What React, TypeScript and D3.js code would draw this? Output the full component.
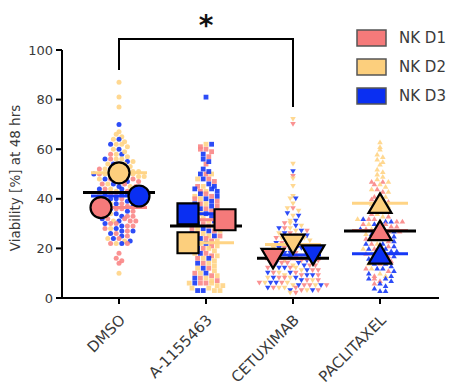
import React from 'react';
import * as d3 from 'd3';

// ---------- data ----------
const groups = ['DMSO', 'A-1155463', 'CETUXIMAB', 'PACLITAXEL'];
const seriesNames = ['NK D1', 'NK D2', 'NK D3'];
const yTicks = [0, 20, 40, 60, 80, 100];
const yLabel = 'Viability [%] at 48 hrs';

const dmsoD1 = [58, 56, 54, 52, 50, 50, 49, 48, 48, 48, 47, 46, 46, 45, 44, 43, 42, 41, 40, 40, 39, 38, 38, 37, 37, 36, 36, 35, 34, 33, 33, 32, 32, 31, 31, 30, 30, 29, 29, 28, 27, 26, 25, 24, 22, 22, 18, 16, 15, 14];
const dmsoD2 = [87, 81, 77, 67, 66, 65, 64, 63, 62, 62, 61, 60, 59, 58, 57, 56, 56, 55, 54, 54, 53, 52, 52, 52, 51, 51, 50, 50, 50, 50, 49, 49, 48, 47, 46, 45, 44, 43, 42, 40, 38, 36, 34, 31, 28, 24, 23, 22, 10];
const dmsoD3 = [70, 64, 62, 60, 58, 56, 55, 54, 52, 51, 50, 48, 47, 46, 45, 44, 44, 43, 43, 42, 42, 42, 41, 41, 40, 40, 39, 39, 38, 38, 37, 36, 35, 34, 33, 32, 31, 30, 29, 28, 27, 27, 26, 25, 24, 23, 22];

const a115D1 = [61, 60, 60, 59, 57, 54, 50, 48, 47, 45, 43, 42, 41, 40, 39, 38, 37, 36, 35, 34, 33, 32, 31, 30, 29, 28, 27, 26, 25, 24, 23, 22, 21, 20, 18, 17, 16, 14, 12, 10, 9, 8, 7, 6, 6];
const a115D2 = [62, 50, 48, 45, 43, 41, 40, 38, 36, 34, 32, 31, 30, 29, 28, 27, 26, 25, 24, 23, 22, 21, 20, 19, 18, 17, 16, 15, 14, 13, 12, 11, 10, 9, 8, 7, 6, 6, 5, 5, 4, 4, 3, 3];
const a115D3 = [81, 62, 58, 56, 55, 52, 51, 50, 48, 46, 45, 44, 44, 43, 42, 41, 40, 39, 38, 37, 36, 35, 34, 33, 32, 31, 30, 29, 28, 27, 26, 25, 24, 22, 20, 18, 16, 14, 12, 10, 8, 6, 3, 3];

const cetuxD1 = [70, 49, 36, 30, 28, 27, 26, 25, 24, 23, 22, 21, 20, 19, 18, 18, 17, 16, 16, 15, 15, 14, 14, 13, 13, 12, 12, 11, 11, 10, 10, 9, 9, 8, 8, 7, 7, 6, 6, 5, 5, 5, 4, 4, 3, 3, 2];
const cetuxD2 = [72, 54, 48, 45, 41, 40, 38, 36, 35, 33, 31, 30, 29, 28, 27, 26, 25, 24, 24, 23, 22, 21, 20, 20, 19, 18, 17, 16, 15, 14, 13, 12, 12, 11, 10, 9, 8, 8, 7, 6, 6, 5, 5, 4, 4, 3, 2];
const cetuxD3 = [51, 40, 34, 33, 31, 29, 28, 27, 26, 25, 24, 23, 22, 21, 21, 20, 20, 19, 18, 18, 17, 16, 16, 15, 15, 14, 14, 13, 12, 12, 11, 10, 10, 9, 9, 8, 8, 7, 6, 6, 5, 5, 4, 3, 3];

const pacliD1 = [47, 47, 46, 44, 43, 41, 40, 39, 38, 37, 36, 35, 34, 33, 32, 32, 31, 31, 30, 30, 29, 29, 28, 28, 27, 27, 26, 25, 24, 23, 22, 21, 20, 19, 18, 17, 16, 15, 14, 12, 11, 9, 8, 7, 6];
const pacliD2 = [63, 61, 60, 58, 57, 56, 55, 54, 52, 51, 50, 49, 48, 47, 46, 45, 44, 43, 42, 41, 40, 39, 38, 37, 36, 35, 34, 33, 32, 31, 30, 28, 26, 24, 22, 20, 18, 16, 14, 12, 10, 9];
const pacliD3 = [32, 31, 31, 30, 29, 28, 28, 27, 26, 25, 25, 24, 24, 23, 22, 22, 21, 20, 20, 19, 19, 18, 17, 17, 16, 15, 14, 14, 13, 12, 12, 11, 10, 9, 8, 8, 7, 6, 5, 4, 3, 3];

const values: number[][][] = [
  [dmsoD1, dmsoD2, dmsoD3],
  [a115D1, a115D2, a115D3],
  [cetuxD1, cetuxD2, cetuxD3],
  [pacliD1, pacliD2, pacliD3],
];

// ---------- style / layout ----------
const dotColors = ['#F98686', '#FFD485', '#1638F6'];
const markerColors = ['#F57A7A', '#FCCF7D', '#0A2FF2'];
const shapes = ['circle', 'square', 'down', 'up'];
const markerNudge = [
  [-18, 0, 20],
  [19, -18, -18],
  [-20, 0, 20],
  [0, 0, 0],
];
const FONT = 'DejaVu Sans, sans-serif';
const TXT = '#3a3a3a';
const ROW = 5;
const GAP = 5.6;

const y = d3.scaleLinear().domain([0, 100]).range([298, 50]);
const x = d3.scaleBand<string>().domain(groups).range([61, 438]).paddingInner(0).paddingOuter(1 / 6);
const cx = (g: string) => (x(g) as number) + x.bandwidth() / 2;

function shapePath(shape: string, w: number): string {
  const h = w / 2;
  if (shape === 'circle') return d3.symbol().type(d3.symbolCircle).size(Math.PI * h * h)() as string;
  if (shape === 'square') return `M${-h},${-h}H${h}V${h}H${-h}Z`;
  const th = w * 0.85;
  if (shape === 'up') return `M0,${-th / 2}L${h},${th / 2}L${-h},${th / 2}Z`;
  return `M0,${th / 2}L${h},${-th / 2}L${-h},${-th / 2}Z`;
}

type Pt = { v: number; s: number; px: number; py: number };

function swarm(gi: number): Pt[] {
  const pts: { v: number; s: number }[] = [];
  values[gi].forEach((arr, s) => arr.forEach((v) => pts.push({ v, s })));
  const bins = d3.group(pts, (p) => Math.round(y(p.v) / ROW));
  const out: Pt[] = [];
  const c = cx(groups[gi]);
  let bi = 0;
  for (const [, bp] of bins) {
    const bySeries = [0, 1, 2].map((s) => bp.filter((p) => p.s === s));
    const ordered: { v: number; s: number }[] = [];
    let k = 0;
    const order = [[0, 1, 2], [2, 0, 1], [1, 2, 0]];
    while (ordered.length < bp.length) {
      for (const s of order[(k + bi) % 3]) if (bySeries[s][k]) ordered.push(bySeries[s][k]);
      k++;
    }
    bi++;
    ordered.forEach((p, j) => {
      out.push({ ...p, px: c + (j - (ordered.length - 1) / 2) * GAP, py: y(p.v) });
    });
  }
  return out;
}

export default function App() {
  const c0 = cx(groups[0]);
  const c2 = cx(groups[2]);
  return (
    <svg width={451} height={384} style={{ display: 'block', position: 'absolute', left: 0, top: 0 }} fontFamily={FONT}>
      <rect width={451} height={384} fill="#fff" />
      {/* small points */}
      {groups.map((g, gi) => (
        <g key={g}>
          {swarm(gi).map((p, i) => (
            <path
              key={i}
              d={shapePath(shapes[gi], gi === 0 ? 5 : gi === 1 ? 4.8 : 5.6)}
              transform={`translate(${p.px},${p.py})`}
              fill={dotColors[p.s]}
              fillOpacity={0.9}
            />
          ))}
        </g>
      ))}
      {/* mean lines per series */}
      {groups.map((g, gi) =>
        values[gi].map((arr, s) => {
          const m = d3.mean(arr) as number;
          return (
            <line key={g + s} x1={cx(g) - 28} x2={cx(g) + 28} y1={y(m)} y2={y(m)} stroke={dotColors[s]} strokeWidth={3} />
          );
        })
      )}
      {/* pooled median */}
      {groups.map((g, gi) => {
        const md = d3.median(values[gi].flat()) as number;
        return <line key={g} x1={cx(g) - 36} x2={cx(g) + 36} y1={y(md)} y2={y(md)} stroke="#000" strokeWidth={3} />;
      })}
      {/* big markers */}
      {groups.map((g, gi) =>
        values[gi].map((arr, s) => {
          const m = d3.mean(arr) as number;
          const w = gi === 0 ? 21 : gi === 1 ? 21 : 23;
          return (
            <path
              key={g + 'm' + s}
              d={shapePath(shapes[gi], w)}
              transform={`translate(${cx(g) + markerNudge[gi][s]},${y(m)})`}
              fill={markerColors[s]}
              stroke="#000"
              strokeWidth={2.2}
              strokeLinejoin="miter"
            />
          );
        })
      )}
      {/* axes */}
      <line x1={62} x2={62} y1={y(100)} y2={y(0) + 1} stroke="#000" strokeWidth={2} />
      <line x1={61} x2={439} y1={y(0)} y2={y(0)} stroke="#000" strokeWidth={2} />
      {yTicks.map((t) => (
        <g key={t}>
          <line x1={56} x2={62} y1={y(t)} y2={y(t)} stroke="#000" strokeWidth={2} />
          <text x={53} y={y(t)} dy="0.36em" textAnchor="end" fontSize={13} fill={TXT}>
            {t}
          </text>
        </g>
      ))}
      {groups.map((g) => (
        <g key={g}>
          <line x1={cx(g)} x2={cx(g)} y1={y(0)} y2={y(0) + 6} stroke="#000" strokeWidth={2} />
          <text
            transform={`translate(${cx(g) + 7},${321}) rotate(-45)`}
            textAnchor="end"
            fontSize={15}
            fill={TXT}
          >
            {g}
          </text>
        </g>
      ))}
      <text transform={`translate(19.5,${(y(0) + y(100)) / 2 + 4}) rotate(-90)`} textAnchor="middle" fontSize={13.5} fill={TXT}>
        {yLabel}
      </text>
      {/* significance bracket */}
      <path d={`M${c0},70V39H${c2}V107`} fill="none" stroke="#000" strokeWidth={2} />
      <text x={(c0 + c2) / 2} y={35} textAnchor="middle" fontSize={28} fontWeight="bold" fill="#111">
        *
      </text>
      {/* legend */}
      {seriesNames.map((n, i) => (
        <g key={n} transform={`translate(357,${30 + i * 29})`}>
          <rect width={29} height={16} fill={markerColors[i]} stroke="#555" strokeWidth={1.5} />
          <text x={42} y={8} dy="0.36em" fontSize={15} fill={TXT}>
            {n}
          </text>
        </g>
      ))}
    </svg>
  );
}
